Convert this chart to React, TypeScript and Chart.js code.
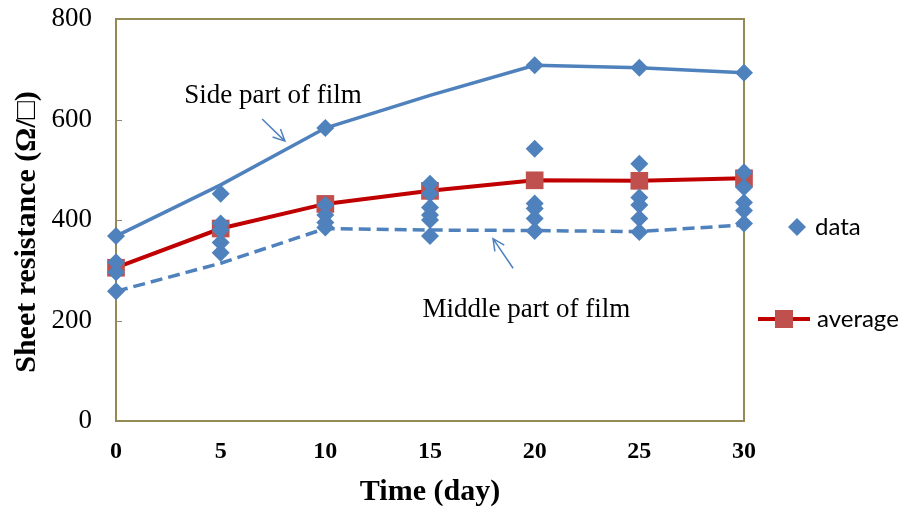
import React, { useEffect, useRef } from 'react';
import { Chart, registerables } from 'chart.js';

Chart.register(...registerables);

// ---- data ----
const days = [0, 5, 10, 15, 20, 25, 30];
const sideLine = [368, 470, 583, 648, 708, 703, 693];
const middleLine = [258, 314, 383, 380, 379, 377, 390];
const averageValues = [305, 383, 432, 458, 479, 478, 483];
const dataDay0 = [368, 316, 296, 258];
const dataDay5 = [452, 393, 380, 355, 335];
const dataDay10 = [583, 430, 410, 395, 385];
const dataDay15 = [472, 452, 425, 410, 400, 368];
const dataDay20 = [708, 542, 433, 423, 403, 378];
const dataDay25 = [703, 512, 445, 430, 403, 376];
const dataDay30 = [693, 495, 465, 435, 419, 393];
const yTickValues = [0, 200, 400, 600, 800];
const xTickValues = [0, 5, 10, 15, 20, 25, 30];

const xTitle = 'Time (day)';
const yTitle = 'Sheet resistance (Ω/□)';
const sideLabel = 'Side part of film';
const middleLabel = 'Middle part of film';
const legendLabels = ['data', 'average'];

// annotation anchors in data units
const sideText = { x: 7.5, y: 647 };
const sideArrow = { x1: 6.98, y1: 601, x2: 8.07, y2: 557 };
const middleText = { x: 19.6, y: 222 };
const middleArrow = { x1: 18.97, y1: 304, x2: 18.01, y2: 363 };

const BLUE = '#4F81BD';
const RED_LINE = '#C00000';
const RED_MARK = '#C0504D';
const OLIVE = '#948A54';

const perDay = [dataDay0, dataDay5, dataDay10, dataDay15, dataDay20, dataDay25, dataDay30];
const scatterPoints = perDay.flatMap((vals, i) => vals.map((v) => ({ x: days[i], y: v })));
const toXY = (vals: number[]) => vals.map((v, i) => ({ x: days[i], y: v }));

function drawArrow(ctx: CanvasRenderingContext2D, x1: number, y1: number, x2: number, y2: number) {
  const ang = Math.atan2(y2 - y1, x2 - x1);
  const len = 13;
  ctx.save();
  ctx.strokeStyle = BLUE;
  ctx.lineWidth = 1.5;
  ctx.beginPath();
  ctx.moveTo(x1, y1);
  ctx.lineTo(x2, y2);
  ctx.moveTo(x2 - len * Math.cos(ang - 0.45), y2 - len * Math.sin(ang - 0.45));
  ctx.lineTo(x2, y2);
  ctx.lineTo(x2 - len * Math.cos(ang + 0.45), y2 - len * Math.sin(ang + 0.45));
  ctx.stroke();
  ctx.restore();
}

const decorPlugin = {
  id: 'decor',
  beforeDatasetsDraw(chart: any) {
    const { ctx, chartArea: a, scales } = chart;
    ctx.save();
    // inner tick marks on y axis
    ctx.strokeStyle = '#888888';
    ctx.lineWidth = 1;
    yTickValues.forEach((v) => {
      const y = Math.round(scales.y.getPixelForValue(v)) + 0.5;
      ctx.beginPath();
      ctx.moveTo(a.left, y);
      ctx.lineTo(a.left + 6, y);
      ctx.stroke();
    });
    // plot border
    ctx.strokeStyle = OLIVE;
    ctx.lineWidth = 2;
    ctx.strokeRect(a.left, a.top, a.right - a.left, a.bottom - a.top);
    ctx.restore();
  },
  afterDraw(chart: any) {
    const { ctx, chartArea: a, scales } = chart;
    const sx = scales.x, sy = scales.y;
    ctx.save();
    // y axis title
    ctx.save();
    ctx.translate(27, (a.top + a.bottom) / 2 + 12);
    ctx.rotate(-Math.PI / 2);
    ctx.fillStyle = '#000';
    ctx.font = 'bold 30px "Liberation Serif"';
    ctx.textAlign = 'center';
    ctx.textBaseline = 'middle';
    ctx.fillText(yTitle, 0, 0);
    ctx.restore();

    ctx.fillStyle = '#000';
    ctx.font = '27px "Liberation Serif"';
    ctx.textAlign = 'center';
    ctx.textBaseline = 'middle';
    ctx.fillText(sideLabel, sx.getPixelForValue(sideText.x), sy.getPixelForValue(sideText.y));
    ctx.fillText(middleLabel, sx.getPixelForValue(middleText.x), sy.getPixelForValue(middleText.y));
    drawArrow(ctx, sx.getPixelForValue(sideArrow.x1), sy.getPixelForValue(sideArrow.y1),
      sx.getPixelForValue(sideArrow.x2), sy.getPixelForValue(sideArrow.y2));
    drawArrow(ctx, sx.getPixelForValue(middleArrow.x1), sy.getPixelForValue(middleArrow.y1),
      sx.getPixelForValue(middleArrow.x2), sy.getPixelForValue(middleArrow.y2));

    // legend
    const lx = a.right + 53;
    const y1 = a.top + 208;
    const y2 = a.top + 300;
    ctx.fillStyle = BLUE;
    ctx.beginPath();
    ctx.moveTo(lx, y1 - 9);
    ctx.lineTo(lx + 9, y1);
    ctx.lineTo(lx, y1 + 9);
    ctx.lineTo(lx - 9, y1);
    ctx.closePath();
    ctx.fill();
    ctx.strokeStyle = RED_LINE;
    ctx.lineWidth = 4;
    ctx.beginPath();
    ctx.moveTo(lx - 39, y2);
    ctx.lineTo(lx + 13, y2);
    ctx.stroke();
    ctx.fillStyle = RED_MARK;
    ctx.fillRect(lx - 22, y2 - 9, 18, 18);
    ctx.fillStyle = '#000';
    ctx.font = '24px Lato';
    ctx.textAlign = 'left';
    ctx.fillText(legendLabels[0], lx + 18, y1);
    ctx.fillText(legendLabels[1], lx + 20, y2);
    ctx.restore();
  },
};

export default function App() {
  const ref = useRef<HTMLCanvasElement>(null);
  useEffect(() => {
    if (!ref.current) return;
    const chart = new Chart(ref.current, {
      type: 'scatter',
      data: {
        datasets: [
          {
            label: 'data',
            data: scatterPoints,
            pointStyle: 'rectRot',
            pointRadius: 9,
            pointBackgroundColor: BLUE,
            pointBorderColor: BLUE,
            pointBorderWidth: 0,
            showLine: false,
            clip: false,
            order: 0,
          },
          {
            label: 'average',
            data: toXY(averageValues),
            showLine: true,
            borderColor: RED_LINE,
            borderWidth: 4,
            pointStyle: 'rect',
            pointRadius: 12.5,
            pointBackgroundColor: RED_MARK,
            pointBorderColor: RED_MARK,
            pointBorderWidth: 0,
            clip: false,
            order: 1,
          },
          {
            label: 'side',
            data: toXY(sideLine),
            showLine: true,
            borderColor: BLUE,
            borderWidth: 3.5,
            pointRadius: 0,
            clip: false,
            order: 2,
          },
          {
            label: 'middle',
            data: toXY(middleLine),
            showLine: true,
            borderColor: BLUE,
            borderWidth: 3.5,
            borderDash: [12, 6],
            pointRadius: 0,
            clip: false,
            order: 3,
          },
        ],
      },
      options: {
        responsive: false,
        animation: false,
        layout: { padding: { top: 19, right: 156, left: 0, bottom: 0 } },
        plugins: { legend: { display: false }, tooltip: { enabled: false } },
        scales: {
          x: {
            type: 'linear',
            min: 0,
            max: 30,
            afterFit: (s: any) => { s.height = 93; s.paddingLeft = 0; s.paddingRight = 0; },
            afterBuildTicks: (s: any) => { s.ticks = xTickValues.map((v) => ({ value: v })); },
            grid: { display: false, drawTicks: false },
            border: { display: false },
            ticks: {
              padding: 16,
              color: '#000',
              font: { family: '"Liberation Serif"', size: 24, weight: 'bold' },
            },
            title: {
              display: true,
              text: xTitle,
              color: '#000',
              padding: { top: 0, bottom: 4 },
              font: { family: '"Liberation Serif"', size: 30, weight: 'bold' },
            },
          },
          y: {
            type: 'linear',
            min: 0,
            max: 800,
            afterFit: (s: any) => { s.width = 116; s.paddingTop = 0; s.paddingBottom = 0; },
            afterBuildTicks: (s: any) => { s.ticks = yTickValues.map((v) => ({ value: v })); },
            grid: { display: false, drawTicks: false },
            border: { display: false },
            ticks: {
              padding: 24,
              color: '#000',
              font: { family: '"Liberation Serif"', size: 27 },
            },
            title: { display: false },
          },
        },
      },
      plugins: [decorPlugin],
    } as any);
    return () => chart.destroy();
  }, []);
  return (
    <div style={{ position: 'absolute', left: 0, top: 0, width: 900, height: 514, background: '#fff' }}>
      <canvas ref={ref} width={900} height={514} style={{ display: 'block' }} />
    </div>
  );
}
